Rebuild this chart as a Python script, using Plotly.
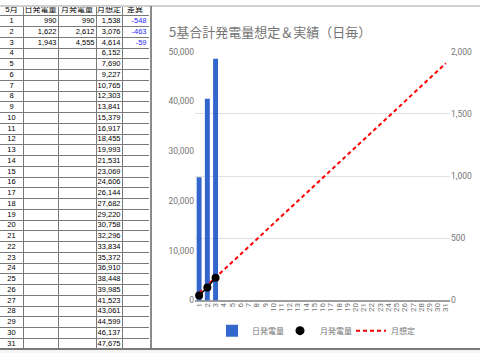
import plotly.graph_objects as go

# ---- data ----
days = list(range(1, 32))
daily_gen = [990, 1622, 1943]                 # 日発電量
monthly_gen = [990, 2612, 4555]               # 月発電量
monthly_plan = [1538, 3076, 4614, 6152, 7690, 9227, 10765, 12303, 13841, 15379,
                16917, 18455, 19993, 21531, 23069, 24606, 26144, 27682, 29220, 30758,
                32296, 33834, 35372, 36910, 38448, 39985, 41523, 43061, 44599, 46137, 47675]  # 月想定
diff = [-548, -463, -59]                      # 差異
headers = ["5月", "日発電量", "月発電量", "月想定", "差異"]
title = "5基合計発電量想定＆実績（日毎）"

W, H = 480, 358
def px(x): return x / W
def py(y): return 1 - y / H

fig = go.Figure()

# ---- spreadsheet table drawn on its own axes (x3/y3) ----
col_edges = [0, 23, 58, 96, 122, 148]
rows = list(range(1, len(days) + 1))
TFONT = "Liberation Sans, Arial, Noto Sans CJK JP"

fig.add_trace(go.Scatter(
    x=[(col_edges[i] + col_edges[i + 1]) / 2 for i in range(5)], y=[0.5] * 5,
    text=headers, mode="text", textposition="middle center",
    textfont=dict(family=TFONT, size=8, color="#000"),
    xaxis="x3", yaxis="y3", showlegend=False, hoverinfo="skip"))
fig.add_trace(go.Scatter(
    x=[(col_edges[0] + col_edges[1]) / 2] * len(days), y=[r + 0.5 for r in rows],
    text=[str(d) for d in days], mode="text", textposition="middle center",
    textfont=dict(family=TFONT, size=7.5, color="#000"),
    xaxis="x3", yaxis="y3", showlegend=False, hoverinfo="skip"))
for ci, vals, color in [(2, daily_gen, "#000"), (3, monthly_gen, "#000"),
                        (4, monthly_plan, "#000"), (5, diff, "#1f2bff")]:
    fig.add_trace(go.Scatter(
        x=[col_edges[ci] - 1.5] * len(vals), y=[r + 0.5 for r in rows[:len(vals)]],
        text=[f"{v:,}" for v in vals], mode="text", textposition="middle left",
        textfont=dict(family=TFONT, size=7.5, color=color),
        xaxis="x3", yaxis="y3", showlegend=False, hoverinfo="skip"))

FONT = "Roboto, Noto Sans CJK JP"

# ---- bars (right axis, primary y so lines draw on top) ----
fig.add_trace(go.Bar(x=days[:len(daily_gen)], y=daily_gen, name="日発電量",
                     marker=dict(color="#3366cc", line=dict(width=0)),
                     width=0.6, xaxis="x", yaxis="y", legend="legend"))
# ---- monthly plan (dashed red) ----
fig.add_trace(go.Scatter(x=days, y=monthly_plan, name="月想定", mode="lines",
                         line=dict(color="#ff0000", width=2, dash="4px,3px"),
                         xaxis="x", yaxis="y2", legend="legend3"))
# ---- monthly actual ----
fig.add_trace(go.Scatter(x=days[:len(monthly_gen)], y=monthly_gen, name="月発電量",
                         mode="lines+markers", showlegend=False,
                         line=dict(color="#000", width=1.5),
                         marker=dict(color="#000", size=8),
                         xaxis="x", yaxis="y2"))
fig.add_trace(go.Scatter(x=[None], y=[None], name="月発電量", mode="markers",
                         marker=dict(color="#000", size=9), xaxis="x", yaxis="y2",
                         legend="legend2"))

tickfont = dict(family=FONT, size=8.5, color="#757575")
lfont = dict(family=FONT, size=8, color="#757575")
def leg(x):
    return dict(orientation="h", x=px(x), xanchor="left", y=py(335), yanchor="middle",
                font=lfont, itemwidth=30, bgcolor="rgba(0,0,0,0)", borderwidth=0)

fig.update_layout(
    width=W, height=H, margin=dict(l=0, r=0, t=0, b=0),
    paper_bgcolor="white", plot_bgcolor="white",
    showlegend=True,
    legend=leg(212), legend2=leg(280), legend3=leg(351),
    xaxis=dict(domain=[px(195), px(450)], range=[0.5, 31.5], tickmode="array",
               tickvals=days, ticktext=[str(d) for d in days], tickangle=-90,
               tickfont=dict(family=FONT, size=8, color="#757575"),
               showgrid=False, zeroline=False, showline=False, anchor="y"),
    yaxis=dict(domain=[py(304), py(48)], side="right", range=[0, 2000],
               tickvals=[0, 500, 1000, 1500, 2000], tickformat=",",
               tickfont=tickfont, gridcolor="#e0e0e0", gridwidth=1,
               zeroline=True, zerolinecolor="#9e9e9e", zerolinewidth=2,
               showline=False, anchor="x"),
    yaxis2=dict(overlaying="y", side="left", range=[0, 50000],
                tickvals=[0, 10000, 20000, 30000, 40000, 50000], tickformat=",",
                tickfont=tickfont, showgrid=False, zeroline=False, showline=False,
                anchor="x"),
    xaxis3=dict(domain=[0, px(149)], range=[0, 149], tickmode="array",
                tickvals=col_edges[1:], showticklabels=False, ticks="",
                showgrid=True, gridcolor="#7a7a7a", gridwidth=1,
                zeroline=False, showline=False, anchor="y3", fixedrange=True),
    yaxis3=dict(domain=[py(354), 1], range=[len(days) + 1, 0], tickmode="array",
                tickvals=list(range(1, len(days) + 2)), showticklabels=False, ticks="",
                showgrid=True, gridcolor="#7a7a7a", gridwidth=1,
                zeroline=False, showline=False, anchor="x3", fixedrange=True),
    annotations=[dict(text=title, x=px(167), y=py(27), xref="paper", yref="paper",
                      xanchor="left", yanchor="middle", showarrow=False,
                      font=dict(family="Noto Sans CJK JP", size=13, color="#757575"))],
    shapes=[
        dict(type="line", xref="paper", yref="paper", x0=0, x1=1, y0=py(1), y1=py(1),
             line=dict(color="#cfcfcf", width=2)),
        dict(type="line", xref="paper", yref="paper", x0=px(151), x1=px(151), y0=py(354), y1=py(1),
             line=dict(color="#8a8a8a", width=2)),
        dict(type="line", xref="paper", yref="paper", x0=0, x1=1, y0=py(354), y1=py(354),
             line=dict(color="#7a7a7a", width=2)),
        dict(type="rect", xref="paper", yref="paper", x0=0, x1=1, y0=0, y1=py(355),
             fillcolor="#f5f5f5", line=dict(width=0), layer="below"),
    ],
)

fig.write_html("out.html", config={"displayModeBar": False},
               post_script="document.body.style.margin='0';")
